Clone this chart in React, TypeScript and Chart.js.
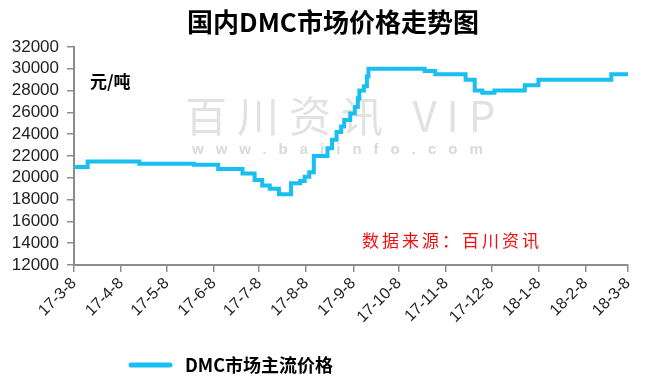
import React, { useEffect, useRef } from "react";
import { Chart, registerables } from "chart.js";

Chart.register(...registerables);

const chartTitle = "国内DMC市场价格走势图";
const seriesName = "DMC市场主流价格";
const unitLabel = "元/吨";
const sourceLabel = "数据来源：百川资讯";
const watermarkMain = "百川资讯 VIP";
const watermarkSub = "www.baiinfo.com";

const startDate = "2017-03-08";
const tickDates = [
  "2017-03-08", "2017-04-08", "2017-05-08", "2017-06-08", "2017-07-08",
  "2017-08-08", "2017-09-08", "2017-10-08", "2017-11-08", "2017-12-08",
  "2018-01-08", "2018-02-08", "2018-03-08",
];
const tickLabels = [
  "17-3-8", "17-4-8", "17-5-8", "17-6-8", "17-7-8", "17-8-8", "17-9-8",
  "17-10-8", "17-11-8", "17-12-8", "18-1-8", "18-2-8", "18-3-8",
];

// price change dates and the new price from that date (元/吨)
const changeDates = [
  "2017-03-08", "2017-03-17", "2017-04-20", "2017-05-26", "2017-06-11",
  "2017-06-27", "2017-07-05", "2017-07-10", "2017-07-15", "2017-07-21",
  "2017-07-29", "2017-08-04", "2017-08-07", "2017-08-10", "2017-08-13",
  "2017-08-22", "2017-08-25", "2017-08-28", "2017-08-31", "2017-09-02",
  "2017-09-06", "2017-09-09", "2017-09-11", "2017-09-12", "2017-09-15",
  "2017-09-17", "2017-09-18", "2017-10-25", "2017-11-01", "2017-11-21",
  "2017-11-27", "2017-12-02", "2017-12-10", "2017-12-30", "2018-01-08",
  "2018-02-25", "2018-03-08",
];
const prices = [
  21000, 21500, 21300, 21200, 20800,
  20400, 19800, 19300, 19000, 18500,
  19500, 19700, 20100, 20500, 22000,
  22700, 23500, 24200, 24700, 25300,
  25900, 26500, 27300, 28000, 28400,
  29300, 30000, 29800, 29500, 29000,
  28000, 27800, 28000, 28500, 29000,
  29500, 29500,
];

const yMin = 12000;
const yMax = 32000;
const yStep = 2000;

const dayOf = (d: string) =>
  Math.round((Date.parse(d) - Date.parse(startDate)) / 86400000);

const lineColor = "#19bff0";
const axisColor = "#8c8c8c";
const cjkFont = '"Noto Sans CJK SC", "Noto Sans", sans-serif';
const numFont = '"Liberation Sans", Arial, sans-serif';

export default function App() {
  const canvasRef = useRef<HTMLCanvasElement | null>(null);

  useEffect(() => {
    document.body.style.margin = "0";
    const canvas = canvasRef.current;
    if (!canvas) return;

    const tickDays = tickDates.map(dayOf);
    const points = changeDates.map((d, i) => ({ x: dayOf(d), y: prices[i] }));

    const decorations = {
      id: "decorations",
      beforeDatasetsDraw(chart: any) {
        const ctx = chart.ctx as CanvasRenderingContext2D;
        ctx.save();
        ctx.fillStyle = "rgba(190,190,190,0.45)";
        ctx.textBaseline = "middle";
        ctx.textAlign = "left";
        ctx.font = `42px ${cjkFont}`;
        (ctx as any).letterSpacing = "10px";
        ctx.fillText(watermarkMain, 185, 116);
        ctx.fillStyle = "rgba(180,180,180,0.5)";
        ctx.font = `bold 15px ${numFont}`;
        (ctx as any).letterSpacing = "12px";
        ctx.fillText(watermarkSub, 192, 150);
        ctx.restore();

        ctx.save();
        ctx.fillStyle = "#f01010";
        ctx.textBaseline = "middle";
        ctx.font = `17px ${cjkFont}`;
        (ctx as any).letterSpacing = "3px";
        ctx.fillText(sourceLabel, 362, 241);
        ctx.restore();
      },
      afterDraw(chart: any) {
        const ctx = chart.ctx as CanvasRenderingContext2D;
        ctx.save();
        ctx.fillStyle = "#000";
        ctx.textBaseline = "middle";
        ctx.textAlign = "center";
        ctx.font = `bold 26px ${cjkFont}`;
        ctx.fillText(chartTitle, 333, 22);

        ctx.textAlign = "left";
        ctx.font = `bold 17px ${cjkFont}`;
        ctx.fillText(unitLabel, 90, 82);

        ctx.strokeStyle = lineColor;
        ctx.lineWidth = 5;
        ctx.lineCap = "round";
        ctx.beginPath();
        ctx.moveTo(131, 365);
        ctx.lineTo(170, 365);
        ctx.stroke();
        ctx.font = `bold 18px ${cjkFont}`;
        ctx.fillText(seriesName, 185, 365);
        ctx.restore();
      },
    };

    const chart = new Chart(canvas, {
      type: "line",
      data: {
        datasets: [
          {
            label: seriesName,
            data: points,
            borderColor: lineColor,
            backgroundColor: lineColor,
            borderWidth: 4,
            pointRadius: 0,
            stepped: "before",
            fill: false,
          },
        ],
      },
      options: {
        responsive: false,
        animation: false,
        layout: { padding: { left: 0, right: 20, top: 47, bottom: 0 } },
        plugins: {
          legend: { display: false },
          title: { display: false },
          tooltip: { enabled: false },
        },
        scales: {
          x: {
            type: "linear",
            min: 0,
            max: tickDays[tickDays.length - 1],
            afterBuildTicks: (scale: any) => {
              scale.ticks = tickDays.map((v) => ({ value: v }));
            },
            afterFit: (scale: any) => {
              scale.height = 386 - 265;
            },
            ticks: {
              autoSkip: false,
              maxRotation: 45,
              minRotation: 45,
              padding: 2,
              color: "#222",
              font: { family: numFont, size: 16 },
              callback: (value: any) => {
                const i = tickDays.indexOf(Number(value));
                return i >= 0 ? tickLabels[i] : "";
              },
            },
            grid: {
              display: true,
              drawOnChartArea: false,
              drawTicks: true,
              tickLength: 7,
              color: axisColor,
              lineWidth: 1.5,
            },
            border: { display: true, color: axisColor, width: 2 },
          },
          y: {
            min: yMin,
            max: yMax,
            afterFit: (scale: any) => {
              scale.width = 74;
            },
            ticks: {
              stepSize: yStep,
              autoSkip: false,
              padding: 8,
              color: "#222",
              font: { family: numFont, size: 17 },
              callback: (value: any) => String(value),
            },
            grid: {
              display: true,
              drawOnChartArea: false,
              drawTicks: true,
              tickLength: 7,
              color: axisColor,
              lineWidth: 1.5,
            },
            border: { display: true, color: axisColor, width: 2 },
          },
        },
      },
      plugins: [decorations],
    });

    return () => {
      chart.destroy();
    };
  }, []);

  return (
    <div style={{ width: 648, height: 386, background: "#fff" }}>
      <canvas ref={canvasRef} width={648} height={386} />
    </div>
  );
}
